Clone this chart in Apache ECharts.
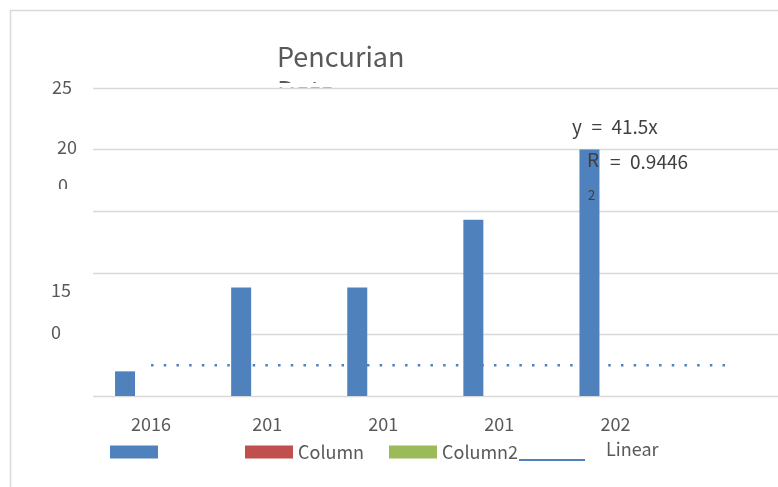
<!DOCTYPE html>
<html>
<head>
<meta charset="utf-8">
<script src="https://cdn.jsdelivr.net/npm/echarts@6/dist/echarts.min.js"></script>
<style>
  html, body { margin: 0; padding: 0; background: #fff; }
  #chart { width: 778px; height: 487px; }
</style>
</head>
<body>
<div id="chart"></div>
<script>
// Category labels along the x axis (last slot is empty)
const categories = ['2016', '201', '201', '201', '202', ''];
// Main column series
const pencurian = [20, 88, 88, 143, 200, null];
// Empty companion series
const column1 = [null, null, null, null, null, null];
const column2 = [null, null, null, null, null, null];
// Trend line values
const linear = [25, 25, 25, 25, 25, 25];
// Y tick label fragments
const yTickLabels = ['25', '20', '0', '15', '0'];
// Trendline equation text (en spaces for the wider gaps)
const equationText = 'y\u2002=\u200241.5x';
const rSquaredText = '=\u20020.9446';

const font = 'Noto Sans CJK SC';
const gray = '#595959';

const chart = echarts.init(document.getElementById('chart'), null, { renderer: 'canvas' });

const yLabelPos = [
  { x: 52, y: 87 },
  { x: 57, y: 147 },
  { x: 58, y: 185 },
  { x: 51, y: 290 },
  { x: 51, y: 332 }
];

const graphics = [
  // chart area border
  { type: 'rect', z: 0, silent: true,
    shape: { x: 10.5, y: 10.5, width: 820, height: 520 },
    style: { fill: 'none', stroke: '#d9d9d9', lineWidth: 1.5 } },
  // title box cuts off its second line
  { type: 'rect', z: 2, silent: true, shape: { x: 268, y: 83, width: 160, height: 4.5 }, style: { fill: '#fff' } }
];
yTickLabels.forEach((t, i) => {
  graphics.push({ type: 'text', z: 10, x: yLabelPos[i].x, y: yLabelPos[i].y,
    style: { text: t, fill: gray, font: '18px "' + font + '"', verticalAlign: 'middle' } });
});
graphics.push(
  // lower half of the wrapped "0" is hidden
  { type: 'rect', z: 11, silent: true, shape: { x: 50, y: 189, width: 30, height: 14 }, style: { fill: '#fff' } },
  // label box masking part of a grid line
  { type: 'rect', z: 4, silent: true, shape: { x: 92, y: 332, width: 152, height: 6 }, style: { fill: '#fff' } },
  { type: 'text', z: 20, x: 572, y: 127,
    style: { text: equationText, fill: '#404040', font: '19px "' + font + '"', verticalAlign: 'middle' } },
  { type: 'text', z: 20, x: 587, y: 160,
    style: { text: 'R', fill: '#404040', font: '19px "' + font + '"', verticalAlign: 'middle' } },
  { type: 'text', z: 20, x: 588, y: 195,
    style: { text: '2', fill: '#404040', font: '13px "' + font + '"', verticalAlign: 'middle' } },
  { type: 'text', z: 20, x: 610, y: 162,
    style: { text: rSquaredText, fill: '#404040', font: '19px "' + font + '"', verticalAlign: 'middle' } }
);

function legendAt(name, left, extra) {
  return Object.assign({
    data: [name], left: left, top: 443, padding: 0, orient: 'horizontal',
    itemWidth: 48, itemHeight: 13, icon: 'rect', selectedMode: false,
    textStyle: { color: gray, fontSize: 18, fontFamily: font, lineHeight: 18 }
  }, extra || {});
}

chart.setOption({
  animation: false,
  backgroundColor: '#fff',
  title: {
    text: 'Pencurian\nData', left: 277, top: 40, z: 1, padding: 0,
    textStyle: { color: gray, fontSize: 27, fontWeight: 'normal', fontFamily: font, lineHeight: 34 }
  },
  grid: { left: 93, width: 696.6, top: 88, bottom: 91, show: true, backgroundColor: '#fff',
    borderWidth: 0, z: 2, outerBoundsMode: 'none' },
  legend: [
    legendAt(' ', 110),
    legendAt('Column', 245),
    legendAt('Column2', 389),
    legendAt('Linear', 519, {
      top: 440, itemWidth: 66, itemHeight: 2, icon: 'rect',
      itemStyle: { color: '#4f81bd' },
      formatter: '{t|{name}}',
      textStyle: {
        color: gray, fontSize: 18, fontFamily: font,
        rich: { t: { color: gray, fontSize: 18, fontFamily: font, lineHeight: 18, padding: [0, 0, 22, 16] } }
      }
    })
  ],
  xAxis: {
    type: 'category', data: categories, z: 3,
    axisLine: { show: false }, axisTick: { show: false },
    axisLabel: { color: gray, fontSize: 18, fontFamily: font, margin: 19, interval: 0 }
  },
  yAxis: {
    type: 'value', min: 0, max: 250, interval: 50, z: 3,
    axisLabel: { show: false }, axisLine: { show: false }, axisTick: { show: false },
    splitLine: { lineStyle: { color: '#d9d9d9', width: 1.3 } }
  },
  series: [
    { name: ' ', type: 'bar', data: pencurian, barWidth: 20, barGap: '30%', z: 5,
      itemStyle: { color: '#4f81bd' } },
    { name: 'Column', type: 'bar', data: column1, barWidth: 20, barGap: '30%', z: 5,
      itemStyle: { color: '#c0504d' } },
    { name: 'Column2', type: 'bar', data: column2, barWidth: 20, barGap: '30%', z: 5,
      itemStyle: { color: '#9bbb59' } },
    { name: 'Linear', type: 'line', data: linear, symbol: 'none', z: 6,
      itemStyle: { color: '#4f81bd' },
      lineStyle: { color: '#4f81bd', width: 2.5, type: [2.5, 10.2] } }
  ],
  graphic: graphics
});
</script>
</body>
</html>
